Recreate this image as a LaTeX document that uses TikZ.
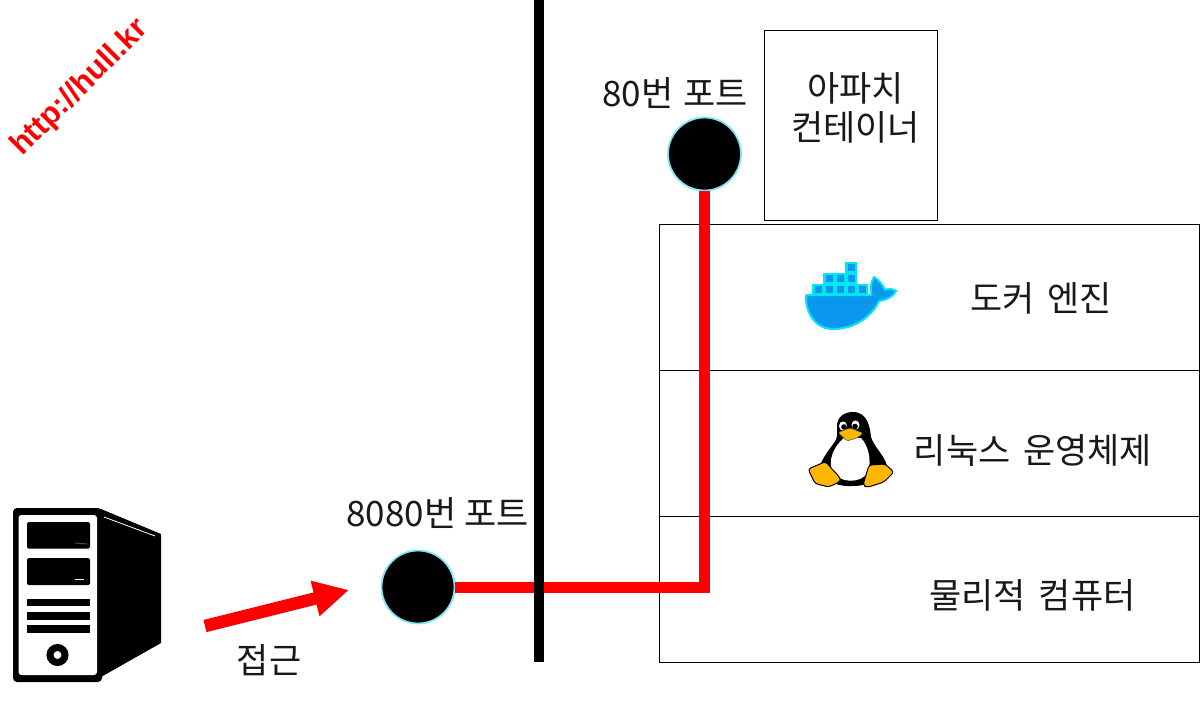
\documentclass[tikz,border=0pt]{standalone}
\usepackage{fontspec}
\setmainfont{Noto Sans CJK KR}
\newfontfamily\urlfont{Liberation Sans}
\usetikzlibrary{arrows.meta}
\definecolor{dockerblue}{HTML}{0A98EE}
\definecolor{dockercyan}{HTML}{00E6F2}
\definecolor{tuxyellow}{HTML}{FFB600}
\definecolor{portring}{HTML}{7FE6F5}
\newcommand{\wgap}{\hspace{5pt}}
\tikzset{
  box/.style={draw=black,line width=0.8pt,fill=none},
  lbl/.style={font=\fontsize{35}{40}\selectfont,text=black!90,inner sep=0pt},
  port/.style={circle,fill=black,draw=portring,line width=1.8pt,inner sep=0pt,minimum size=73pt},
  wire/.style={draw=red,line width=11pt},
  wall/.style={draw=black,line width=10pt},
  access/.style={draw=red,line width=12.5pt,-{Triangle[length=35pt,width=34pt]}},
  crate/.style={fill=dockerblue,draw=dockercyan,line width=2.2pt},
  tuxfoot/.style={fill=tuxyellow,draw=black,line width=1pt,line join=round,rounded corners=3pt},
}
\begin{document}
\begin{tikzpicture}[x=1pt,y=-1pt]
\useasboundingbox (0,0) rectangle (1200,702);
\fill[white] (0,0) rectangle (1200,702);
% boxes
\node[box,minimum width=173pt,minimum height=190pt,inner sep=0pt] (apache) at (850.5,125) {};
\node[box,minimum width=540pt,minimum height=146pt,inner sep=0pt] (docker) at (929.5,297) {};
\node[box,minimum width=540pt,minimum height=146pt,inner sep=0pt] (linux) at (929.5,443) {};
\node[box,minimum width=540pt,minimum height=146pt,inner sep=0pt] (hw) at (929.5,589) {};
% wall
\coordinate (walltop) at (539,0);
\coordinate (wallbot) at (539,662);
% ports
\node[port] (p80) at (704.5,154) {};
\node[port] (p8080) at (418,587) {};
\coordinate (corner) at (704.5,587);
\draw[wire] (p80) -- (corner) -- (p8080);
\draw[wall] (walltop) -- (wallbot);
% labels
\node[lbl] (t1) at (855.5,88) {아파치};
\node[lbl] (t2) at (855.5,127) {컨테이너};
\node[lbl] (t3) at (675,93) {80번\hspace{2pt} 포트};
\node[lbl] (t4) at (1041,298) {도커\wgap{} 엔진};
\node[lbl] (t5) at (1033,451) {리눅스\wgap{} 운영체제};
\node[lbl] (t6) at (1032.5,595) {물리적\wgap{} 컴퓨터};
\node[lbl] (t7) at (437.5,513) {8080번 포트};
\node[lbl] (t8) at (269,660) {접근};
\node[font=\urlfont\bfseries\fontsize{31}{36}\selectfont,text=red,rotate=45,inner sep=0pt] (url) at (80,88) {http://hull.kr};
% arrow
\coordinate (a1) at (205,626);
\coordinate (a2) at (349,590);
\draw[access] (a1) -- (a2);
% docker whale
\fill[dockerblue,draw=dockercyan,line width=2pt,line join=round]
  (806,295) -- (871.5,295) .. controls (870,288) and (871,282) .. (874,277)
  .. controls (879,280) and (883,285) .. (885,290)
  .. controls (889,288) and (893,289) .. (896,291)
  .. controls (893,297) and (886,300) .. (879,301)
  .. controls (872,316) and (855,329) .. (833,329)
  .. controls (815,329) and (805,312) .. (806,295) -- cycle;
\foreach \i in {0,...,4} \path[crate] (813.5+11*\i,285) rectangle ++(9.5,9.5);
\foreach \i in {1,2,3} \path[crate] (813.5+11*\i,274) rectangle ++(9.5,9.5);
\path[crate] (846.5,263) rectangle ++(9.5,9.5);
% tux
\fill[black] (853,412) .. controls (843,412) and (837,418) .. (837,426)
  .. controls (837,434) and (838,438) .. (834,443)
  .. controls (827,452) and (820,462) .. (818,472)
  .. controls (825,482) and (840,487) .. (853,486)
  .. controls (868,486) and (880,480) .. (887,466)
  .. controls (885,456) and (874,447) .. (871,437)
  .. controls (870,428) and (868,412) .. (853,412) -- cycle;
\fill[white] (844,438) .. controls (834,446) and (828,460) .. (832,470)
  .. controls (838,484) and (862,484) .. (868,472)
  .. controls (872,460) and (868,445) .. (861,438) -- cycle;
\fill[white] (843,426) ellipse (4pt and 4.6pt);
\fill[white] (855.5,425) ellipse (4pt and 4.6pt);
\fill[black] (844,427) circle (2.8pt);
\fill[black] (855,426.5) circle (2.8pt);
\fill[tuxyellow,draw=black!70,line width=0.5pt,line join=round,rounded corners=1.5pt]
  (838,432.5) -- (850,428) -- (863,433) -- (858,437.5) -- (847,441) -- cycle;
\path[tuxfoot] (808,469) -- (826,461.5) .. controls (832,470) and (838,474) .. (841,481)
  -- (829,487) -- (815,483.5) -- cycle;
\path[tuxfoot] (863,485) -- (869,465) -- (885,464) -- (894,472) -- (884,482) -- (867,487.5) -- cycle;
% server
\fill[black,rounded corners=4pt] (13,508) rectangle (102,682);
\fill[white,rounded corners=3pt] (18.5,515) rectangle (97,675);
\fill[black,rounded corners=1.5pt] (27,522) rectangle (90,548.5);
\fill[black,rounded corners=1.5pt] (27,558) rectangle (90,585);
\fill[black] (27,598.5) rectangle (90,606);
\fill[black] (27,612) rectangle (90,619.5);
\fill[black] (27,625) rectangle (90,632.5);
\draw[black,line width=7pt] (57.5,655) circle (7.5pt);
\fill[black] (101,509) -- (161,534) -- (161,643) -- (101,677) -- cycle;
\draw[white,line width=0.8pt] (104,517) -- (155,536);
\draw[white,line width=0.8pt] (75,579) -- (84,579);
\draw[black!70,line width=1pt] (75,543) -- (87,544);
\end{tikzpicture}
\end{document}
